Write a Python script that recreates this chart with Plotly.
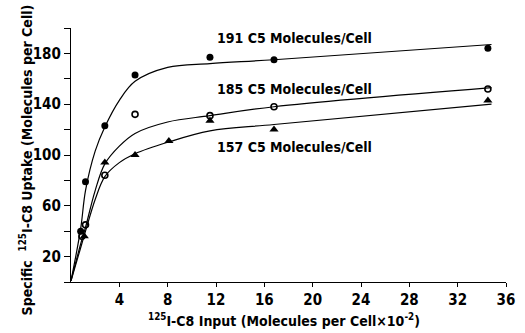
import plotly.graph_objects as go

# Data points
x_191 = [0.8, 1.2, 2.8, 5.3, 11.5, 16.8, 34.5]
y_191 = [40, 79, 123, 163, 177, 175, 184]
x_185 = [0.9, 1.2, 2.8, 5.3, 11.5, 16.8, 34.5]
y_185 = [36, 45, 84, 132, 131, 138, 152]
x_157 = [1.1, 2.8, 5.3, 8.1, 11.5, 16.8, 34.5]
y_157 = [36, 94, 100, 111, 127, 120, 143]

# Fitted curves
cx_upper = [0, 0.8, 1.2, 2.0, 2.8, 4.0, 5.3, 8.0, 11.5, 16.8, 34.8]
cy_upper = [1, 42, 72, 103, 122, 143, 158, 169, 172, 175, 187]
cx_mid = [0, 0.8, 1.2, 2.0, 2.8, 4.0, 5.3, 8.0, 11.5, 16.8, 34.8]
cy_mid = [1, 30, 43, 72, 93, 107, 117, 126, 131, 138, 153]
cx_low = [0, 0.8, 1.2, 2.0, 2.8, 4.0, 5.3, 8.0, 11.5, 16.8, 34.8]
cy_low = [1, 27, 40, 65, 83, 94, 101, 110, 119, 124, 140]

x_ticks = [4, 8, 12, 16, 20, 24, 28, 32, 36]
y_ticks = [20, 60, 100, 140, 180]

FONT = "Liberation Sans Narrow, DejaVu Sans Condensed, Arial Narrow, sans-serif"

fig = go.Figure()
for cx, cy in [(cx_upper, cy_upper), (cx_mid, cy_mid), (cx_low, cy_low)]:
    fig.add_trace(go.Scatter(x=cx, y=cy, mode="lines", line=dict(color="black", width=1.2, shape="spline", smoothing=1.0),
                             hoverinfo="skip", showlegend=False))

fig.add_trace(go.Scatter(x=x_191, y=y_191, mode="markers", showlegend=False,
                         marker=dict(symbol="circle", size=7, color="black")))
fig.add_trace(go.Scatter(x=x_185, y=y_185, mode="markers", showlegend=False,
                         marker=dict(symbol="circle-open", size=6, color="black", line=dict(width=1.6))))
fig.add_trace(go.Scatter(x=x_157, y=y_157, mode="markers", showlegend=False,
                         marker=dict(symbol="triangle-up", size=8, color="black")))

labels = [("191 C5 Molecules/Cell", 18.5, 192), ("185 C5 Molecules/Cell", 18.5, 152), ("157 C5 Molecules/Cell", 18.5, 106)]
for t, x, y in labels:
    fig.add_annotation(x=x, y=y, text=t, showarrow=False, xref="x", yref="y",
                       font=dict(family=FONT, size=14, color="black", weight="bold"))

fig.add_annotation(x=-0.128, y=0.48, xref="paper", yref="paper", textangle=-90, showarrow=False,
                   text="Specific  <sup>125</sup>I-C8 Uptake (Molecules per Cell)",
                   font=dict(family=FONT, size=14, color="black", weight="bold"))
fig.add_annotation(x=0.49, y=-0.15, xref="paper", yref="paper", showarrow=False, yanchor="middle",
                   text="<sup>125</sup>I-C8 Input (Molecules per Cell×10<sup>-2</sup>)",
                   font=dict(family=FONT, size=14, color="black", weight="bold"))

axis_font = dict(family=FONT, size=15, color="black", weight="bold")
fig.update_xaxes(range=[0, 36], tickvals=x_ticks, showline=True, linecolor="black", linewidth=1.2,
                 ticks="outside", ticklen=4, tickcolor="black", showgrid=False, zeroline=False,
                 tickfont=axis_font)
fig.update_yaxes(range=[0, 200], tickvals=y_ticks,
                 showline=True, linecolor="black", linewidth=1.2,
                 ticks="outside", ticklen=6, tickcolor="black", showgrid=False, zeroline=False,
                 minor=dict(tick0=0, dtick=20, ticks="outside", ticklen=6, tickcolor="black", showgrid=False),
                 tickfont=axis_font)

fig.update_layout(width=525, height=333, margin=dict(l=71, r=10, t=28, b=51),
                  plot_bgcolor="white", paper_bgcolor="white")
fig.write_html("out.html")
